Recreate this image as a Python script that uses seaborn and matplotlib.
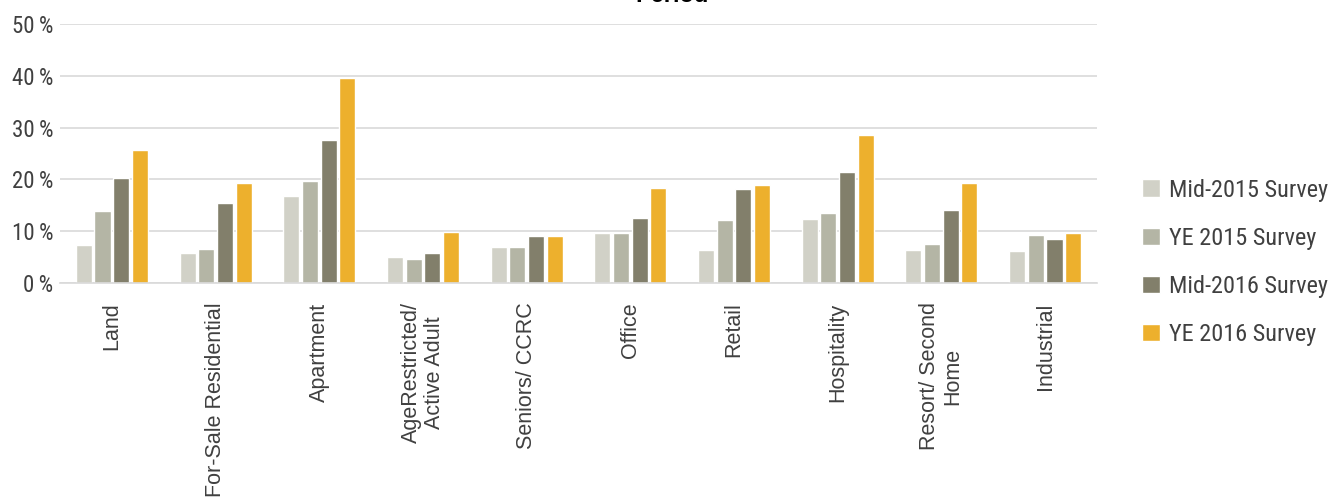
import matplotlib
matplotlib.use("Agg")
import matplotlib.pyplot as plt
import seaborn as sns
import pandas as pd
from matplotlib.ticker import FuncFormatter
from matplotlib import font_manager

categories = ["Land", "For-Sale Residential", "Apartment", "AgeRestricted/\nActive Adult",
              "Seniors/ CCRC", "Office", "Retail", "Hospitality", "Resort/ Second\nHome", "Industrial"]
series = ["Mid-2015 Survey", "YE 2015 Survey", "Mid-2016 Survey", "YE 2016 Survey"]
mid_2015 = [7.3, 5.8, 16.8, 5.1, 6.9, 9.6, 6.4, 12.3, 6.4, 6.1]
ye_2015 = [13.9, 6.6, 19.6, 4.6, 6.9, 9.6, 12.1, 13.6, 7.6, 9.3]
mid_2016 = [20.3, 15.4, 27.6, 5.8, 9.1, 12.6, 18.1, 21.4, 14.1, 8.4]
ye_2016 = [25.6, 19.4, 39.6, 9.9, 9.1, 18.4, 18.9, 28.6, 19.3, 9.6]
colors = ["#D1D1C7", "#B4B5A5", "#827F6B", "#EDB02D"]

rows = []
for s, vals in zip(series, [mid_2015, ye_2015, mid_2016, ye_2016]):
    for c, v in zip(categories, vals):
        rows.append({"category": c, "series": s, "value": v / 100.0})
df = pd.DataFrame(rows)

sns.set_theme(style="white")
names = {f.name for f in font_manager.fontManager.ttflist}
narrow = "Liberation Sans Narrow" if "Liberation Sans Narrow" in names else "Roboto Condensed" if "Roboto Condensed" in names else "DejaVu Sans"
plt.rcParams["font.family"] = ["Liberation Sans", "DejaVu Sans"]

fig = plt.figure(figsize=(13.3, 4.97), dpi=100)
ax = fig.add_axes([60 / 1330, 1 - 283 / 497, (1097 - 60) / 1330, (283 - 24) / 497])

sns.barplot(data=df, x="category", y="value", hue="series", order=categories,
            hue_order=series, palette=colors, width=0.72, gap=0.14, ax=ax,
            saturation=1, errorbar=None)

ax.set_ylim(0, 0.5)
ax.set_xlim(-0.5, len(categories) - 0.5)
ax.set_yticks([0, 0.1, 0.2, 0.3, 0.4, 0.5])
ax.yaxis.set_major_formatter(FuncFormatter(lambda v, p: f"{int(round(v * 100))}\u2009%"))
ax.yaxis.grid(True, color="#D9D9D9", linewidth=1.2)
ax.set_axisbelow(True)
for sp in ["top", "right", "left"]:
    ax.spines[sp].set_visible(False)
ax.spines["bottom"].set_color("#D9D9D9")
ax.spines["bottom"].set_linewidth(1.2)
ax.tick_params(axis="both", length=0)
ax.tick_params(axis="y", pad=5, labelsize=16.5, labelcolor="#404040")
for lab in ax.get_yticklabels():
    lab.set_family([narrow, "DejaVu Sans"])
ax.set_xlabel("")
ax.set_ylabel("")
ax.set_xticks(range(len(categories)))
ax.set_xticklabels(categories, rotation=90, fontsize=15.5, color="#404040",
                   ha="center", va="top", ma="center", linespacing=1.15)
ax.tick_params(axis="x", pad=14)

ax.legend_.remove()
handles, labels = ax.get_legend_handles_labels()
leg = fig.legend(handles, labels, loc="upper left", bbox_to_anchor=(1120 / 1330, 1 - 157 / 497),
                 frameon=False, handlelength=0.75, handleheight=0.75,
                 labelspacing=1.03, handletextpad=0.35,
                 prop={"family": [narrow, "DejaVu Sans"], "size": 17.5})
for t in leg.get_texts():
    t.set_color("#404040")

fig.text(672 / 1330, 1 + 4 / 497, "Period", ha="center", va="center", fontsize=17,
         fontweight="bold", color="black")

fig.savefig("out.png", dpi=100, facecolor="white")
